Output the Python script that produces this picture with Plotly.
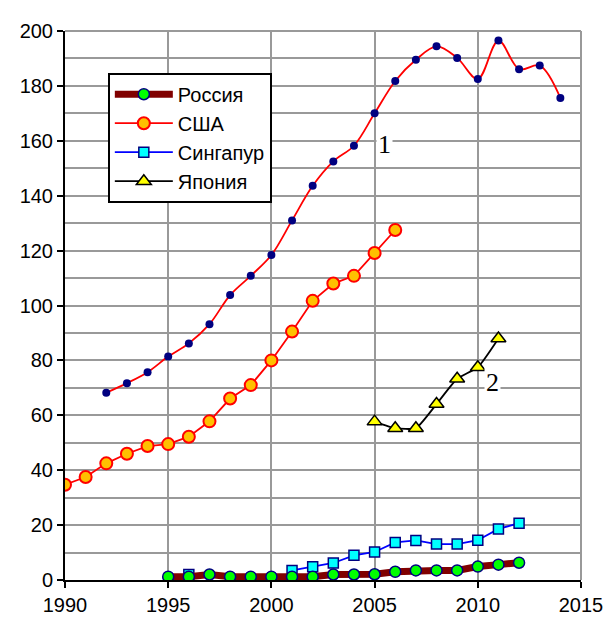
import plotly.graph_objects as go

# Series 1 (curve "1", no legend entry)
years_1 = list(range(1992, 2015))
values_1 = [68.2, 71.7, 75.7, 81.4, 86.2, 93.2, 103.8, 110.8, 118.4, 131.0, 143.6, 152.5,
            158.2, 170.0, 181.8, 189.5, 194.4, 190.2, 182.5, 196.5, 186.1, 187.4, 175.6]

years_usa = list(range(1990, 2007))
values_usa = [34.7, 37.5, 42.5, 46.0, 48.8, 49.5, 52.2, 57.8, 66.1, 71.0, 80.0, 90.5,
              101.7, 108.0, 110.8, 119.1, 127.5]

years_sing = [1996, 1997, 1998, 1999, 2000, 2001, 2002, 2003, 2004, 2005, 2006, 2007,
              2008, 2009, 2010, 2011, 2012]
values_sing = [2.0, None, None, None, None, 3.5, 4.8, 6.2, 9.0, 10.2, 13.7, 14.4,
               13.1, 13.1, 14.5, 18.6, 20.7]

years_jap = list(range(2005, 2012))
values_jap = [57.7, 55.3, 55.3, 64.1, 73.3, 77.5, 88.0]

years_rus = list(range(1995, 2013))
values_rus = [1.2, 1.2, 2.0, 1.2, 1.2, 1.2, 1.2, 1.2, 2.0, 2.0, 2.1, 3.0, 3.5, 3.5,
              3.5, 4.9, 5.6, 6.3]

x_ticks = [1990, 1995, 2000, 2005, 2010, 2015]
y_ticks = [0, 20, 40, 60, 80, 100, 120, 140, 160, 180, 200]

fig = go.Figure()

fig.add_trace(go.Scatter(
    x=years_1, y=values_1, mode="lines+markers", showlegend=False,
    line=dict(color="#FF0000", width=1.8, shape="spline", smoothing=1.0),
    marker=dict(symbol="circle", size=8, color="#000080", line=dict(width=0)),
))
fig.add_trace(go.Scatter(
    x=years_usa, y=values_usa, mode="lines+markers", name="США",
    legendgroup="b", legendrank=2,
    line=dict(color="#FF0000", width=1.8),
    marker=dict(symbol="circle", size=12, color="#FFC000", line=dict(color="#FF0000", width=2)),
))
fig.add_trace(go.Scatter(
    x=years_jap, y=values_jap, mode="lines+markers", name="Япония",
    legendgroup="d", legendrank=4,
    line=dict(color="#000000", width=1.8, shape="spline", smoothing=0.5),
    marker=dict(symbol="triangle-up", size=13, color="#FFFF00", line=dict(color="#000000", width=1.5)),
))
fig.add_trace(go.Scatter(
    x=years_sing, y=values_sing, mode="lines+markers", name="Сингапур",
    legendgroup="c", legendrank=3, connectgaps=False,
    line=dict(color="#0000FF", width=1.8),
    marker=dict(symbol="square", size=10, color="#00FFFF", line=dict(color="#000080", width=1.5)),
))
fig.add_trace(go.Scatter(
    x=years_rus, y=values_rus, mode="lines+markers", name="Россия",
    legendgroup="a", legendrank=1,
    line=dict(color="#800000", width=7),
    marker=dict(symbol="circle", size=11, color="#00FF00", line=dict(color="#000080", width=1.5)),
))

fig.add_annotation(x=2005.5, y=158.6, text="1", showarrow=False, bgcolor="white",
                   font=dict(family="Liberation Serif", size=26, color="black"))
fig.add_annotation(x=2010.7, y=71.9, text="2", showarrow=False, bgcolor="white",
                   font=dict(family="Liberation Serif", size=26, color="black"))

# The page body has an 8px margin, so the figure is 8px smaller and offset accordingly
fig.update_layout(
    width=607, height=620,
    margin=dict(l=54, r=25, t=14, b=33),
    paper_bgcolor="white", plot_bgcolor="white",
    font=dict(family="Liberation Sans, Arial", size=20, color="black"),
    showlegend=True,
    legend=dict(x=0.083, y=0.924, xanchor="left", yanchor="top",
                bgcolor="white", bordercolor="black", borderwidth=2,
                font=dict(size=20), tracegroupgap=2, traceorder="normal",
                itemwidth=58),
    xaxis=dict(range=[1990, 2015], tickvals=x_ticks, ticktext=[str(v) for v in x_ticks],
               showgrid=True, gridcolor="#999999", gridwidth=2,
               showline=True, linecolor="black", linewidth=2,
               ticks="outside", ticklen=6, tickwidth=2, tickcolor="black",
               zeroline=False, mirror=False),
    yaxis=dict(range=[0, 200], tickvals=y_ticks, ticktext=[str(v) for v in y_ticks],
               showgrid=True, gridcolor="#999999", gridwidth=2,
               minor=dict(dtick=10, showgrid=True, gridcolor="#999999", gridwidth=2),
               showline=True, linecolor="black", linewidth=2,
               ticks="outside", ticklen=6, tickwidth=2, tickcolor="black",
               zeroline=False),
    shapes=[dict(type="line", xref="paper", yref="paper", x0=1, x1=1, y0=0, y1=1,
                 line=dict(color="#999999", width=2)),
            dict(type="line", xref="paper", yref="paper", x0=0, x1=1, y0=1, y1=1,
                 line=dict(color="#999999", width=2))],
)

fig.write_html("out.html")
